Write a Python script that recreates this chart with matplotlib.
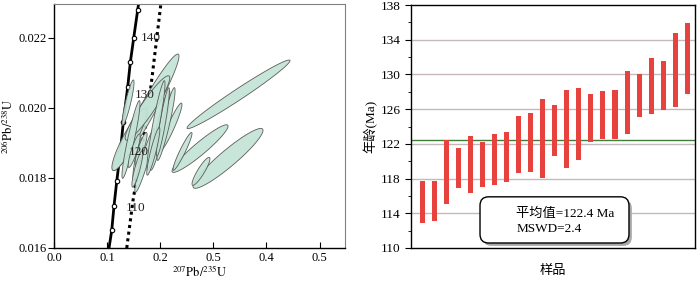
import numpy as np
import matplotlib
matplotlib.use("Agg")
import matplotlib.pyplot as plt
from matplotlib.patches import Polygon, FancyBboxPatch

plt.rcParams['font.family'] = ['Liberation Serif', 'Noto Sans CJK SC', 'DejaVu Sans']
plt.rcParams['mathtext.fontset'] = 'stix'

# ---------------- Concordia data (left panel) ----------------
conc_x = [0.1036, 0.1087, 0.1130, 0.1181, 0.1254, 0.1305, 0.1388, 0.1437, 0.1501, 0.1576, 0.1595]
conc_y = [0.0160, 0.0165, 0.0172, 0.0179, 0.0188, 0.0196, 0.0206, 0.0213, 0.0220, 0.0228, 0.0230]
marker_x = [0.1087, 0.1130, 0.1181, 0.1305, 0.1388, 0.1437, 0.1501, 0.1576]
marker_y = [0.0165, 0.0172, 0.0179, 0.0196, 0.0206, 0.0213, 0.0220, 0.0228]
dotted_x = [0.137, 0.1488, 0.177, 0.2015]
dotted_y = [0.0160, 0.01736, 0.01992, 0.0230]
age_labels = ['110', '120', '130', '140']
age_label_x = [0.153, 0.159, 0.170, 0.182]
age_label_y = [0.01713, 0.01873, 0.02038, 0.02200]

# ellipses: centre x, centre y, half-span x, half-span y, correlation
ell_cx = [0.3475, 0.3277, 0.2768, 0.2750, 0.2420,
          0.1733, 0.1420, 0.1760, 0.1394, 0.1580, 0.1710, 0.1996, 0.2203,
          0.2110, 0.2050, 0.1920, 0.1450, 0.1510, 0.1640, 0.1570, 0.1870]
ell_cy = [0.02039, 0.01856, 0.01819, 0.01884, 0.01876,
          0.01988, 0.01910, 0.02000, 0.02015, 0.01854, 0.01850, 0.01936, 0.01946,
          0.01954, 0.01960, 0.01950, 0.01910, 0.01878, 0.01883, 0.01826, 0.01876]
ell_sx = [0.0970, 0.0659, 0.0169, 0.0528, 0.0179,
          0.0621, 0.0330, 0.0420, 0.0113, 0.0094, 0.0188, 0.0188, 0.0207,
          0.0170, 0.0122, 0.0170, 0.0170, 0.0113, 0.0113, 0.0103, 0.0123]
ell_sy = [0.00098, 0.000855, 0.00040, 0.00068, 0.00054,
          0.00166, 0.00089, 0.00092, 0.00065, 0.00061, 0.00091, 0.00114, 0.00068,
          0.00104, 0.00098, 0.00128, 0.00111, 0.00048, 0.00047, 0.00052, 0.00068]
ell_rho = [0.982, 0.935, 0.895, 0.943, 0.948,
           0.963, 0.897, 0.932, 0.888, 0.828, 0.935, 0.907, 0.941,
           0.920, 0.907, 0.926, 0.926, 0.868, 0.868, 0.868, 0.907]

conc_xticks = [0.0, 0.1, 0.2, 0.3, 0.4, 0.5]
conc_xticklabels = ['0.0', '0.1', '0.2', '0.5', '0.4', '0.5']
conc_yticks = [0.016, 0.018, 0.020, 0.022]
conc_yticklabels = ['0.016', '0.018', '0.020', '0.022']

# ---------------- Age bars (right panel) ----------------
age_top = [117.67, 117.67, 122.39, 121.51, 122.93, 122.24, 123.16, 123.39, 125.19, 125.61,
           127.22, 126.46, 128.22, 128.45, 127.72, 128.07, 128.18, 130.45, 130.10, 131.90,
           131.56, 134.74, 135.89]
age_bottom = [112.88, 113.07, 115.06, 116.90, 116.33, 117.02, 117.25, 117.63, 118.63, 118.75,
              118.06, 120.63, 119.21, 120.13, 122.20, 122.54, 122.54, 123.12, 125.04, 125.46,
              125.88, 126.19, 127.76]
mean_age = 122.4
mswd = 2.4
age_yticks = [110, 114, 118, 122, 126, 130, 134, 138]

fig = plt.figure(figsize=(7.0, 2.81), dpi=100)

# ================= Left panel =================
ax1 = fig.add_axes([54/700, 33/281, 291/700, 244/281])
ax1.set_xlim(0.0, 0.548)
ax1.set_ylim(0.016, 0.02297)

ax1.plot(conc_x, conc_y, color='black', lw=2.0, zorder=2, solid_capstyle='butt')
ax1.plot(marker_x, marker_y, 'o', ms=3.2, mfc='white', mec='black', mew=0.8, zorder=2.5)
ax1.plot(dotted_x, dotted_y, color='black', lw=2.2, ls=(0, (1, 1.2)), zorder=2)

t = np.linspace(0, 2*np.pi, 200)
for cx, cy, sx, sy, r in zip(ell_cx, ell_cy, ell_sx, ell_sy, ell_rho):
    phi = np.arccos(r)
    xs = cx + sx*np.cos(t)
    ys = cy + sy*np.cos(t - phi)
    poly = Polygon(np.column_stack([xs, ys]), closed=True, facecolor='#c3e3d6',
                   edgecolor='#505050', lw=0.6, alpha=0.92, zorder=3)
    ax1.add_patch(poly)

for lab, lx, ly in zip(age_labels, age_label_x, age_label_y):
    ax1.text(lx, ly, lab, ha='center', va='center', fontsize=9.5, color='#222222', zorder=4)

ax1.set_xticks(conc_xticks)
ax1.set_xticklabels(conc_xticklabels, fontsize=9)
ax1.set_yticks(conc_yticks)
ax1.set_yticklabels(conc_yticklabels, fontsize=9)
ax1.tick_params(axis='x', direction='in', length=4, width=0.8, pad=3)
ax1.tick_params(axis='y', direction='out', length=4, width=0.8, pad=1)
for s in ['top', 'right']:
    ax1.spines[s].set_color('#808080')
    ax1.spines[s].set_linewidth(0.8)
for s in ['left', 'bottom']:
    ax1.spines[s].set_color('black')
    ax1.spines[s].set_linewidth(1.0)
ax1.set_xlabel(r'$^{207}\mathrm{Pb}/^{235}\mathrm{U}$', fontsize=9, labelpad=0)
ax1.set_ylabel(r'$^{206}\mathrm{Pb}/^{238}\mathrm{U}$', fontsize=9, labelpad=2)

# ================= Right panel =================
ax2 = fig.add_axes([410.7/700, 33/281, 284.3/700, 243/281])
xpos = np.arange(1, len(age_top) + 1)
ax2.set_xlim(0.04, len(age_top) + 0.64)
ax2.set_ylim(110, 138)
for yv in age_yticks[1:-1]:
    ax2.axhline(yv, color='#c4b8b8', lw=1.0, zorder=1)
ax2.axhline(mean_age, color='#3f7f3a', lw=1.0, zorder=1.5)
heights = [tp - bt for tp, bt in zip(age_top, age_bottom)]
ax2.bar(xpos, heights, bottom=age_bottom, width=0.42, color='#e8423f', zorder=2)

ax2.set_yticks(age_yticks)
ax2.set_yticklabels([str(v) for v in age_yticks], fontsize=9.5)
ax2.set_yticks(np.arange(112, 138, 4), minor=True)
ax2.set_xticks([])
ax2.tick_params(axis='y', which='major', direction='out', length=4, width=0.8)
ax2.tick_params(axis='y', which='minor', direction='out', length=2.5, width=0.6)
for s in ax2.spines.values():
    s.set_color('black')
    s.set_linewidth(1.0)
ax2.set_xlabel('样品', fontsize=9.5, labelpad=12)
ax2.set_ylabel('年龄(Ma)', fontsize=9.5, labelpad=2)

# text box with shadow
bx0, by0, bw, bh = 0.2438, 0.0206, 0.524, 0.19
shadow = FancyBboxPatch((bx0 + 0.010, by0 - 0.012), bw, bh, transform=ax2.transAxes,
                        boxstyle='round,pad=0,rounding_size=0.03', facecolor='#a8a8a8',
                        edgecolor='none', zorder=4, mutation_aspect=1.2)
ax2.add_patch(shadow)
box = FancyBboxPatch((bx0, by0), bw, bh, transform=ax2.transAxes,
                     boxstyle='round,pad=0,rounding_size=0.03', facecolor='white',
                     edgecolor='black', lw=1.0, zorder=5, mutation_aspect=1.2)
ax2.add_patch(box)
ax2.text(0.372, 0.14, f'平均值={mean_age} Ma', transform=ax2.transAxes, fontsize=9.5,
         ha='left', va='center', zorder=6)
ax2.text(0.372, 0.078, f'MSWD={mswd}', transform=ax2.transAxes, fontsize=9.5,
         ha='left', va='center', zorder=6)

fig.savefig('out.png', dpi=100)
